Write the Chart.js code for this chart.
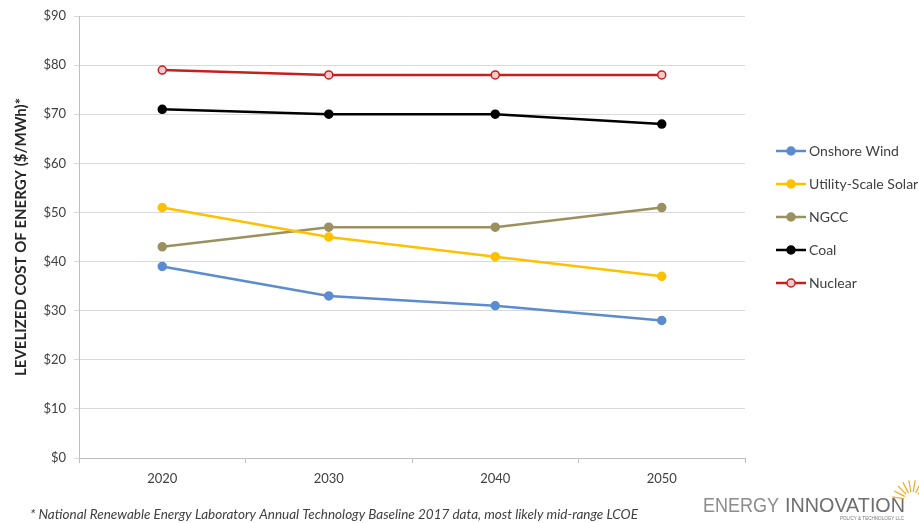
<!DOCTYPE html>
<html>
<head>
<meta charset="utf-8">
<script src="https://cdn.jsdelivr.net/npm/chart.js@4"></script>
<style>
  html, body { margin: 0; padding: 0; background: #fff; }
  #wrap { width: 919px; height: 523px; }
</style>
</head>
<body>
<div id="wrap"><canvas id="lcoe" width="919" height="523"></canvas></div>
<script>
var years = ['2020', '2030', '2040', '2050'];
var onshoreWind = [39, 33, 31, 28];
var utilitySolar = [51, 45, 41, 37];
var ngcc = [43, 47, 47, 51];
var coal = [71, 70, 70, 68];
var nuclear = [79, 78, 78, 78];
var yTicks = [0, 10, 20, 30, 40, 50, 60, 70, 80, 90];

var fontName = 'Lato, "Open Sans", sans-serif';

function series(label, data, color, fill) {
    return {
        label: label,
        data: data,
        borderColor: color,
        backgroundColor: color,
        pointBackgroundColor: fill || color,
        pointBorderColor: color,
        pointBorderWidth: 1.5,
        pointRadius: 4,
        borderWidth: 2.5,
        tension: 0
    };
}

var datasets = [
    series('Onshore Wind', onshoreWind, '#5b8ccf'),
    series('Utility-Scale Solar', utilitySolar, '#ffc000'),
    series('NGCC', ngcc, '#9b9160'),
    series('Coal', coal, '#000000'),
    series('Nuclear', nuclear, '#c81e1e', '#f3caca')
];

// legend on the right, line with a dot like the original
var sideLegend = {
    id: 'sideLegend',
    afterDraw: function (chart) {
        var c = chart.ctx;
        c.save();
        chart.data.datasets.forEach(function (ds, i) {
            var y = 151 + i * 33;
            c.strokeStyle = ds.borderColor;
            c.lineWidth = 2.5;
            c.beginPath();
            c.moveTo(776, y);
            c.lineTo(806, y);
            c.stroke();
            c.beginPath();
            c.arc(791, y, 4, 0, Math.PI * 2);
            c.fillStyle = ds.pointBackgroundColor;
            c.fill();
            c.lineWidth = 1.5;
            c.stroke();
            c.fillStyle = '#404040';
            c.font = '14px ' + fontName;
            c.textBaseline = 'middle';
            c.textAlign = 'left';
            c.fillText(ds.label, 809, y);
        });
        c.restore();
    }
};

// footnote and logo text at the bottom
var footer = {
    id: 'footer',
    afterDraw: function (chart) {
        var c = chart.ctx;
        c.save();
        c.textBaseline = 'alphabetic';
        c.textAlign = 'left';
        c.fillStyle = '#404040';
        c.font = 'italic 13.5px ' + fontName;
        c.fillText('* National Renewable Energy Laboratory Annual Technology Baseline 2017 data, most likely mid-range LCOE', 30, 519, 608);

        c.font = '21px "Liberation Sans Narrow", "Liberation Sans", sans-serif';
        c.fillStyle = '#8c8c8c';
        c.fillText('ENERGY', 703, 512, 76);
        c.fillStyle = '#6e6e6e';
        c.fillText('INNOVATION', 785, 512, 120);
        c.font = '5px "Liberation Sans", sans-serif';
        c.fillStyle = '#777';
        c.fillText('POLICY & TECHNOLOGY LLC', 840, 520, 64);

        // sun rays
        c.strokeStyle = '#f5a623';
        c.lineWidth = 1.2;
        for (var k = 0; k < 9; k++) {
            var a = Math.PI * (1.05 + k * 0.1);
            c.beginPath();
            c.moveTo(912 + Math.cos(a) * 8, 500 + Math.sin(a) * 8);
            c.lineTo(912 + Math.cos(a) * 20, 500 + Math.sin(a) * 20);
            c.stroke();
        }
        c.restore();
    }
};

new Chart(document.getElementById('lcoe').getContext('2d'), {
    type: 'line',
    data: {
        labels: years,
        datasets: datasets
    },
    options: {
        responsive: false,
        animation: false,
        layout: { padding: { top: 16, right: 174, bottom: 0, left: 12 } },
        plugins: {
            legend: { display: false },
            tooltip: { enabled: false }
        },
        scales: {
            x: {
                offset: true,
                grid: { offset: true, drawOnChartArea: false, tickLength: 5, color: '#bfbfbf' },
                border: { color: '#bfbfbf' },
                ticks: { color: '#404040', font: { family: fontName, size: 13 }, padding: 8 },
                afterFit: function (scale) { scale.height = 65; }
            },
            y: {
                min: 0,
                max: 90,
                afterBuildTicks: function (scale) {
                    scale.ticks = yTicks.map(function (v) { return { value: v }; });
                },
                grid: { color: '#d9d9d9', tickLength: 5 },
                border: { color: '#bfbfbf' },
                ticks: {
                    color: '#404040',
                    font: { family: fontName, size: 13 },
                    padding: 8,
                    callback: function (v) { return '$' + v; }
                },
                title: {
                    display: true,
                    text: 'LEVELIZED COST OF ENERGY ($/MWh)*',
                    color: '#262626',
                    font: { family: fontName, size: 15, weight: 'bold' },
                    padding: { top: 0, bottom: 4 }
                },
                afterFit: function (scale) { scale.width = 67; }
            }
        }
    },
    plugins: [sideLegend, footer]
});
</script>
</body>
</html>
